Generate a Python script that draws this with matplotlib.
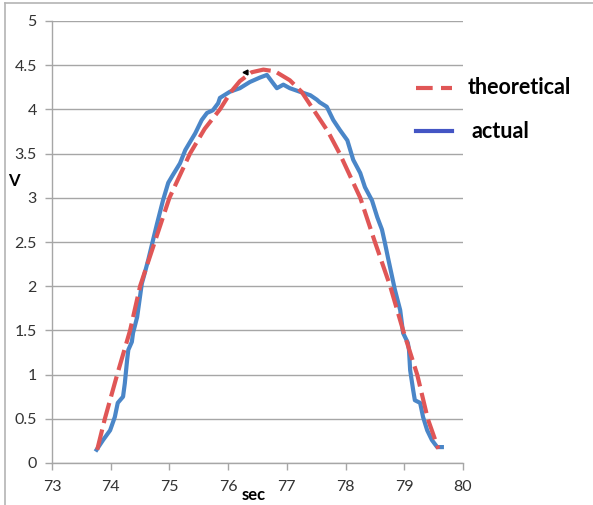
import matplotlib
matplotlib.use("Agg")
import matplotlib.pyplot as plt
from matplotlib.lines import Line2D

# ---- data ----
theo_t = [73.77, 73.90, 74.11, 74.33, 74.50, 74.75, 75.00, 75.35, 75.60, 75.86, 76.05,
          76.20, 76.40, 76.60, 76.80, 77.05, 77.25, 77.45, 77.70, 77.90, 78.25, 78.50,
          78.76, 78.98, 79.22, 79.40, 79.58]
theo_v = [0.15, 0.50, 1.00, 1.50, 2.00, 2.50, 3.00, 3.50, 3.78, 4.00, 4.20,
          4.32, 4.42, 4.45, 4.43, 4.33, 4.20, 4.00, 3.75, 3.50, 3.00, 2.50,
          2.00, 1.50, 1.00, 0.50, 0.16]

act_t = [73.76, 73.87, 73.99, 74.07, 74.12, 74.21, 74.24, 74.28, 74.30, 74.36,
         74.38, 74.45, 74.53, 74.58, 74.64, 74.72, 74.79, 74.89, 74.98, 75.06,
         75.18, 75.27, 75.35, 75.44, 75.55, 75.64, 75.74, 75.83, 75.86, 76.03,
         76.20, 76.37, 76.54, 76.66, 76.75, 76.83, 76.94, 77.05, 77.22, 77.40,
         77.51, 77.56, 77.68, 77.79, 77.90, 78.03, 78.13, 78.25, 78.33, 78.45,
         78.54, 78.62, 78.67, 78.72, 78.84, 78.93, 78.98, 79.06, 79.08, 79.10,
         79.15, 79.18, 79.27, 79.32, 79.39, 79.47, 79.56, 79.64]
act_v = [0.15, 0.26, 0.37, 0.52, 0.68, 0.75, 0.90, 1.17, 1.28, 1.37,
         1.47, 1.65, 2.03, 2.15, 2.30, 2.52, 2.71, 2.97, 3.17, 3.26,
         3.39, 3.54, 3.63, 3.73, 3.88, 3.96, 3.99, 4.07, 4.13, 4.20,
         4.24, 4.31, 4.36, 4.39, 4.31, 4.24, 4.28, 4.24, 4.20, 4.16,
         4.11, 4.08, 4.03, 3.88, 3.77, 3.65, 3.43, 3.28, 3.12, 2.97,
         2.78, 2.64, 2.49, 2.33, 1.96, 1.73, 1.47, 1.36, 1.28, 1.05,
         0.83, 0.71, 0.68, 0.52, 0.37, 0.26, 0.18, 0.18]

marker_t = [76.28]
marker_v = [4.42]

x_ticks = [73, 74, 75, 76, 77, 78, 79, 80]
y_ticks = [0, 0.5, 1, 1.5, 2, 2.5, 3, 3.5, 4, 4.5, 5]
y_tick_labels = ["0", "0.5", "1", "1.5", "2", "2.5", "3", "3.5", "4", "4.5", "5"]

# ---- figure ----
W, H = 593, 505
fig = plt.figure(figsize=(W / 100, H / 100), dpi=100)
plt.rcParams['font.family'] = ['Lato', 'DejaVu Sans']

ax = fig.add_axes([52 / W, 1 - 463 / H, (463 - 52) / W, (463 - 21) / H])
grid_c = '#a6a6a6'
text_c = '#333333'
ax.set_xlim(73, 80)
ax.set_ylim(0, 5)
ax.set_xticks(x_ticks)
ax.set_xticklabels([str(t) for t in x_ticks])
ax.set_yticks(y_ticks)
ax.set_yticklabels(y_tick_labels)
ax.yaxis.grid(True, color=grid_c, linewidth=1.0)
ax.set_axisbelow(True)
for s in ['top', 'right']:
    ax.spines[s].set_visible(False)
for s in ['left', 'bottom']:
    ax.spines[s].set_color(grid_c)
    ax.spines[s].set_linewidth(1.0)
ax.tick_params(axis='both', direction='out', length=5, width=1, color=grid_c,
               labelsize=11.5, labelcolor=text_c)
ax.tick_params(axis='x', pad=7)
ax.tick_params(axis='y', pad=6)

blue = '#4a86c8'
red = '#e05656'
ax.plot(act_t, act_v, color=blue, linewidth=3.0, solid_joinstyle='round', zorder=3)
ax.plot(theo_t, theo_v, color=red, linewidth=3.0, dashes=(5.0, 1.6), zorder=4)
ax.plot(marker_t, marker_v, marker='<', color='black', markersize=3.5, linestyle='none', zorder=5)

# axis titles
fig.text(14 / W, 1 - 181 / H, 'V', fontsize=12, fontweight='bold', color='black',
         ha='center', va='center')
fig.text(254 / W, 1 - 495 / H, 'sec', fontsize=12, fontweight='bold', color='black',
         ha='center', va='center')

# legend
fig.add_artist(Line2D([416 / W, 452 / W], [1 - 88 / H, 1 - 88 / H], color=red,
                      linewidth=3.0, dashes=(4.0, 2.0), transform=fig.transFigure))
fig.add_artist(Line2D([416 / W, 452 / W], [1 - 131 / H, 1 - 131 / H], color='#4455c4',
                      linewidth=3.0, transform=fig.transFigure))
fig.text(468 / W, 1 - 88 / H, 'theoretical', fontsize=15.5, fontweight='bold',
         color='black', ha='left', va='center')
fig.text(472 / W, 1 - 131 / H, 'actual', fontsize=15.5, fontweight='bold',
         color='black', ha='left', va='center')

# outer frame (top and left edges visible)
frame_c = '#b4b4b4'
fig.add_artist(Line2D([5 / W, 1], [1 - 3 / H, 1 - 3 / H], color=frame_c, linewidth=1.2,
                      transform=fig.transFigure))
fig.add_artist(Line2D([5 / W, 5 / W], [0, 1 - 3 / H], color=frame_c, linewidth=1.2,
                      transform=fig.transFigure))

fig.savefig('out.png', dpi=100)
